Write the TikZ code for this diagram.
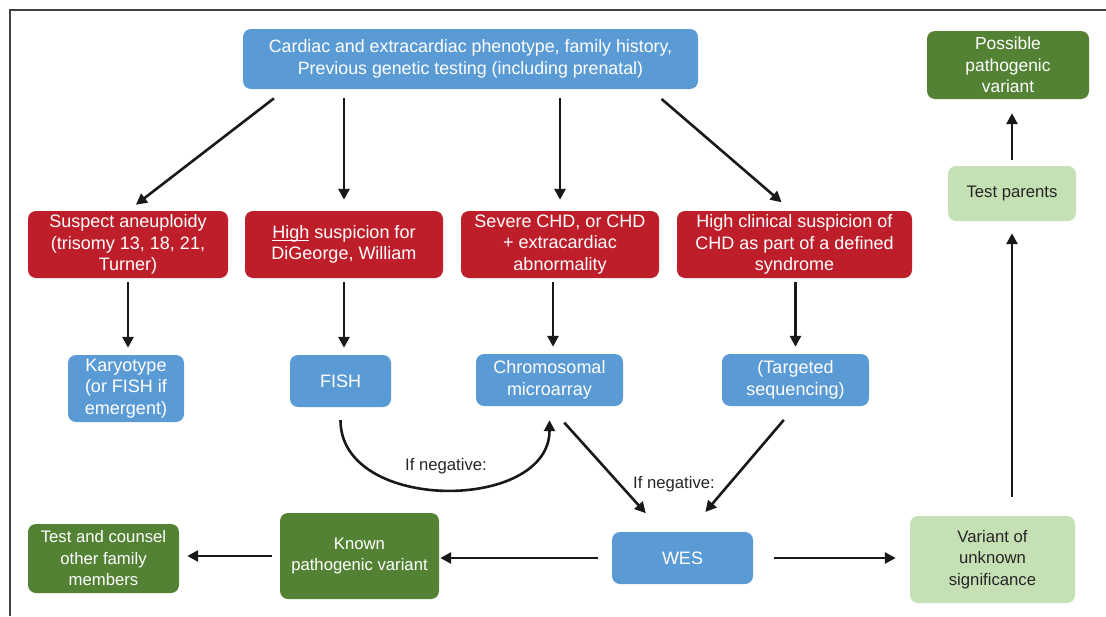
\documentclass[tikz,border=0pt]{standalone}
\usepackage{fontspec}
\setmainfont{Liberation Sans}
\usetikzlibrary{arrows.meta,positioning,calc}
\definecolor{chdblue}{RGB}{91,155,213}
\definecolor{chdred}{RGB}{190,30,42}
\definecolor{chdgreen}{RGB}{84,130,53}
\definecolor{chdpale}{RGB}{197,224,180}
\begin{document}
\begin{tikzpicture}[
    x=1pt, y=-1pt,
    box/.style={
      rectangle, rounded corners=8pt, align=center, inner sep=2pt,
      font=\fontsize{18}{21.5}\selectfont
    },
    testbox/.style={box, fill=chdblue, text=white},
    suspect/.style={box, fill=chdred, text=white, minimum width=198pt, minimum height=67pt},
    result/.style={box, fill=chdgreen, text=white, font=\fontsize{16.7}{21.5}\selectfont},
    unsure/.style={box, fill=chdpale, text=black!85, font=\fontsize{16.7}{21.5}\selectfont},
    flow/.style={-{Triangle[length=11pt,width=11pt]}, line width=2.6pt, black!90},
    note/.style={font=\fontsize{16.7}{20}\selectfont, text=black!85, inner sep=0pt}
  ]
  \useasboundingbox (0,0) rectangle (1106,616);
  \draw[line width=1.8pt, black!75] (10,616) -- (10,10) -- (1106,10);
  % top and suspicion row
  \node[testbox, minimum width=455pt, minimum height=60pt, font=\fontsize{17.8}{22}\selectfont] (pheno) at (470.5,59)
    {Cardiac and extracardiac phenotype, family history,\\ Previous genetic testing (including prenatal)};
  \node[suspect, minimum width=200pt] (aneuploidy) at (128,244.5) {Suspect aneuploidy\\ (trisomy 13, 18, 21,\\ Turner)};
  \node[suspect] (digeorge) at (344,244.5) {\underline{\smash{High}} suspicion for\\ DiGeorge, William};
  \node[suspect] (severe_chd) at (560,244.5) {Severe CHD, or CHD\\ + extracardiac\\ abnormality};
  \node[suspect, minimum width=235pt] (syndrome) at (794.5,244.5) {High clinical suspicion of\\ CHD as part of a defined\\ syndrome};
  % tests
  \node[testbox, minimum width=116pt, minimum height=67pt] (karyotype) at (126,388.5) {Karyotype\\ (or FISH if\\ emergent)};
  \node[testbox, minimum width=101pt, minimum height=52pt] (fish) at (340.5,381) {FISH};
  \node[testbox, minimum width=147pt, minimum height=52pt] (microarray) at (549.5,380) {Chromosomal\\ microarray};
  \node[testbox, minimum width=147pt, minimum height=52pt] (targeted) at (795.5,380) {(Targeted\\ sequencing)};
  % results
  \node[testbox, minimum width=141pt, minimum height=52pt] (wes) at (682.5,558) {WES};
  \node[result, minimum width=159pt, minimum height=86pt] (known) at (359.5,556) {Known\\ pathogenic variant};
  \node[result, minimum width=151pt, minimum height=69pt] (counsel) at (103.5,558.5) {Test and counsel\\ other family\\ members};
  \node[unsure, minimum width=165pt, minimum height=87pt] (vus) at (992.5,559.5) {Variant of\\ unknown\\ significance};
  \node[unsure, minimum width=128pt, minimum height=55pt] (parents) at (1012,193.5) {Test parents};
  \node[result, minimum width=162pt, minimum height=68pt, font=\fontsize{17.4}{21.5}\selectfont] (possible) at (1008,65) {Possible\\ pathogenic\\ variant};
  % connectors
  \draw[flow, shorten <=15pt, shorten >=10pt] ([xshift=43pt]pheno.south west) -- (aneuploidy.north);
  \draw[flow, shorten <=9pt, shorten >=11pt] (pheno.south -| digeorge.north) -- (digeorge.north);
  \draw[flow, shorten <=9pt, shorten >=11pt] (pheno.south -| severe_chd.north) -- (severe_chd.north);
  \draw[flow, shorten <=15pt, shorten >=13pt] ([xshift=-48pt]pheno.south east) -- ([xshift=-3pt]syndrome.north);
  \draw[flow, shorten <=4pt, shorten >=7pt] (aneuploidy.south) -- (aneuploidy.south |- karyotype.north);
  \draw[flow, shorten <=4pt, shorten >=7pt] (digeorge.south) -- (digeorge.south |- fish.north);
  \draw[flow, shorten <=4pt, shorten >=7pt] ([xshift=-7pt]severe_chd.south) -- ([xshift=-7pt]severe_chd.south |- microarray.north);
  \draw[flow, shorten <=4pt, shorten >=7pt] (targeted.north |- syndrome.south) -- (targeted.north);
  \draw[flow, shorten <=13pt, shorten >=14pt] (fish.south) .. controls +(0,106) and +(0,106) .. (microarray.south);
  \node[note] (neg_left) at (446,466) {If negative:};
  \draw[flow, shorten <=22pt, shorten >=25pt] (microarray.south) -- ([xshift=-20pt]wes.north);
  \draw[flow, shorten <=18pt, shorten >=26pt] (targeted.south) -- ([xshift=6pt]wes.north);
  \node[note] (neg_right) at (674,484) {If negative:};
  \draw[flow, shorten <=14pt, shorten >=1pt] (wes.west) -- (wes.west -| known.east);
  \draw[flow, shorten <=8pt, shorten >=8pt] (known.west) -- (known.west -| counsel.east);
  \draw[flow, shorten <=21pt, shorten >=14pt] (wes.east) -- (wes.east -| vus.west);
  \draw[flow, shorten <=19pt, shorten >=12pt] (parents.south |- vus.north) -- (parents.south);
  \draw[flow, shorten <=6pt, shorten >=14pt] (parents.north) -- (parents.north |- possible.south);
\end{tikzpicture}
\end{document}
